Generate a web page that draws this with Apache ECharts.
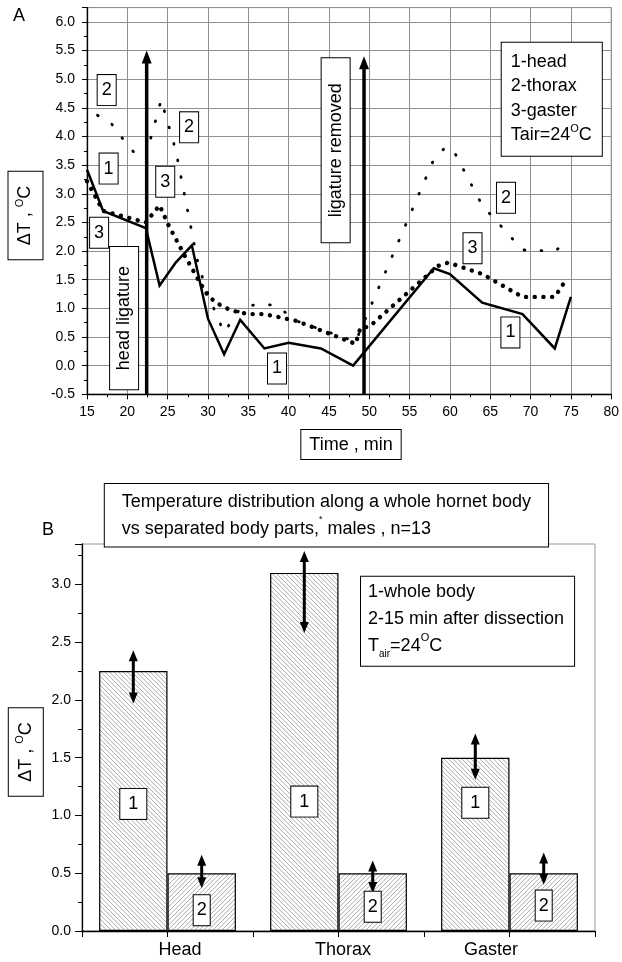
<!DOCTYPE html>
<html>
<head>
<meta charset="utf-8">
<script src="https://cdn.jsdelivr.net/npm/echarts@6/dist/echarts.min.js"></script>
<style>
  html, body { margin: 0; padding: 0; background: #fff; }
  #chart { width: 622px; height: 962px; }
</style>
</head>
<body>
<div id="chart"></div>
<script>
// ---------- Panel A: temperature excess of body parts over time ----------
const headTime   = [15, 17, 22.3, 24, 26, 28, 30, 32, 34, 37, 40, 44, 48, 58, 60, 64, 69, 73, 75];
const headDT     = [3.42, 2.7, 2.4, 1.4, 1.8, 2.1, 0.82, 0.2, 0.8, 0.3, 0.4, 0.3, 0.0, 1.7, 1.6, 1.1, 0.9, 0.3, 1.2];

const thoraxTime = [16.3, 18, 19.6, 21.2, 22.3, 24.2, 26, 28.8, 30, 31, 32, 34, 36, 38, 39.6, 41, 48.3, 58, 59.5, 60.5, 64, 69, 73, 75];
const thoraxDT   = [4.37, 4.23, 3.93, 3.66, 3.66, 4.64, 3.76, 1.76, 1.25, 0.9, 0.58, 1.0, 1.07, 1.06, 0.93, 0.78, 0.42, 3.6, 3.82, 3.74, 2.8, 2.02, 2.0, 2.2];

const gasterTime = [15, 17, 22.3, 24, 25, 27, 29, 30, 31, 32, 33, 35, 37, 41, 48.3, 48.9, 50, 58.5, 59.8, 64, 69, 73, 74.5];
const gasterDT   = [3.22, 2.7, 2.5, 2.8, 2.48, 1.95, 1.45, 1.22, 1.1, 1.02, 0.96, 0.9, 0.9, 0.78, 0.38, 0.66, 0.68, 1.74, 1.8, 1.6, 1.2, 1.2, 1.52];

// moments when the ligature was applied / removed, and arrow tips
const ligatureTime = [22.4, 49.35];
const ligatureTip  = [5.5, 5.4];

const xTicksA = { min: 15, max: 80, step: 5 };
const yTicksA = { min: -0.5, max: 6.25, step: 0.5 };

// ---------- Panel B: whole body vs separated parts ----------
const parts           = ['Head', 'Thorax', 'Gaster'];
const wholeBody       = [2.25, 3.1, 1.5];
const wholeBodyHigh   = [2.43, 3.29, 1.71];
const wholeBodyLow    = [1.97, 2.58, 1.31];
const afterDissection = [0.5, 0.5, 0.5];
const afterHigh       = [0.66, 0.61, 0.68];
const afterLow        = [0.37, 0.33, 0.40];

const yTicksB = { min: 0, max: 3.35, step: 0.5 };

// ---------- annotation tags ----------
const tagsA = [
  { t: '2', x: 17.44, y: 4.81 }, { t: '2', x: 27.66, y: 4.16 },
  { t: '1', x: 17.68, y: 3.44 }, { t: '3', x: 24.7, y: 3.21 },
  { t: '3', x: 16.5, y: 2.32 },  { t: '1', x: 38.56, y: -0.05 },
  { t: '2', x: 66.95, y: 2.93 }, { t: '3', x: 62.8, y: 2.05 },
  { t: '1', x: 67.5, y: 0.58 },
  { t: 'head ligature', x: 19.6, y: 0.83, rot: true, pad: [4, 19, 4, 19] },
  { t: 'ligature removed', x: 45.83, y: 3.76, rot: true, pad: [4, 25, 4, 25] }
];
const tagLevelWhole = [1.1, 1.12, 1.11];
const tagLevelAfter = [0.18, 0.21, 0.22];

const FONT = '"Liberation Sans", Arial, sans-serif';

function hatch(dir) {
  const s = 9, c = document.createElement('canvas');
  c.width = s; c.height = s;
  const g = c.getContext('2d');
  g.fillStyle = '#fff'; g.fillRect(0, 0, s, s);
  g.strokeStyle = '#a3a3a3'; g.lineWidth = 0.9;
  g.beginPath();
  for (let k = -2; k <= 2; k++) {
    const o = k * s / 2;
    if (dir > 0) { g.moveTo(o, 0); g.lineTo(o + s, s); }
    else { g.moveTo(o, s); g.lineTo(o + s, 0); }
  }
  g.stroke();
  return c;
}

function boxedText(text, x, y, rotated, pad) {
  return {
    type: 'text', x: x, y: y, rotation: rotated ? Math.PI / 2 : 0,
    style: {
      text: text, font: '18px ' + FONT, fill: '#000',
      align: 'center', verticalAlign: 'middle', lineHeight: 20,
      backgroundColor: '#fff', borderColor: '#000', borderWidth: 1,
      padding: pad || [5, 4, 5, 4]
    }
  };
}

// vertical arrow: shaft from yA to yB (pixels), head at yB, optional head at yA
function arrow(x, yA, yB, lw, headLen, headHalf, both) {
  const dir = yB < yA ? 1 : -1;
  const children = [];
  const s0 = both ? yA - dir * headLen * 0.8 : yA;
  const s1 = yB + dir * headLen * 0.8;
  children.push({ type: 'line', shape: { x1: x, y1: s0, x2: x, y2: s1 }, style: { stroke: '#000', lineWidth: lw } });
  children.push({ type: 'polygon', shape: { points: [[x, yB], [x - headHalf, yB + dir * headLen], [x + headHalf, yB + dir * headLen]] }, style: { fill: '#000' } });
  if (both) {
    children.push({ type: 'polygon', shape: { points: [[x, yA], [x - headHalf, yA - dir * headLen], [x + headHalf, yA - dir * headLen]] }, style: { fill: '#000' } });
  }
  return { type: 'group', children: children };
}

const axisBlack = { lineStyle: { color: '#000', width: 1.3 } };
const tickBlack = { lineStyle: { color: '#000', width: 1 } };

const chart = echarts.init(document.getElementById('chart'), null, { renderer: 'canvas' });

const option = {
  animation: false,
  backgroundColor: '#fff',
  textStyle: { fontFamily: FONT, color: '#000' },
  grid: [
    { left: 87, right: 7.5, top: 7.6, bottom: 567.7, show: true, borderColor: '#8f8f8f', borderWidth: 1, backgroundColor: 'transparent' },
    { left: 82, right: 27, top: 544, bottom: 31, show: true, borderColor: '#9a9a9a', borderWidth: 1, backgroundColor: 'transparent' }
  ],
  xAxis: [
    {
      gridIndex: 0, type: 'value', min: xTicksA.min, max: xTicksA.max, interval: xTicksA.step,
      axisLine: Object.assign({ onZero: false }, axisBlack),
      axisTick: Object.assign({ length: 5 }, tickBlack),
      minorTick: Object.assign({ show: true, splitNumber: 2, length: 3 }, tickBlack),
      axisLabel: { color: '#000', fontSize: 14, fontFamily: FONT, margin: 11 },
      splitLine: { show: true, lineStyle: { color: '#8f8f8f', width: 1 } }
    },
    {
      gridIndex: 1, type: 'value', min: 0, max: parts.length, interval: 0.5,
      axisLine: Object.assign({ onZero: false }, axisBlack),
      axisTick: Object.assign({ length: 6 }, tickBlack),
      axisLabel: {
        color: '#000', fontSize: 18, fontFamily: FONT, margin: 10,
        formatter: function (v) {
          const i = Math.floor(v);
          if (Math.abs(v - i - 0.5) > 1e-6 || i >= parts.length) return '';
          return '{p' + i + '|' + parts[i] + '}';
        },
        rich: {
          p0: { fontSize: 18, padding: [0, 0, 0, 25] },
          p1: { fontSize: 18, padding: [0, 0, 0, 9] },
          p2: { fontSize: 18, padding: [0, 37, 0, 0] }
        }
      },
      splitLine: { show: false }
    }
  ],
  yAxis: [
    {
      gridIndex: 0, type: 'value', min: yTicksA.min, max: yTicksA.max, interval: yTicksA.step,
      axisLine: Object.assign({ onZero: false }, axisBlack),
      axisTick: Object.assign({ length: 5 }, tickBlack),
      minorTick: Object.assign({ show: true, splitNumber: 2, length: 3 }, tickBlack),
      axisLabel: { color: '#000', fontSize: 14, fontFamily: FONT, margin: 12, showMaxLabel: false, formatter: v => v.toFixed(1) },
      splitLine: { show: true, lineStyle: { color: '#8f8f8f', width: 1 } }
    },
    {
      gridIndex: 1, type: 'value', min: yTicksB.min, max: yTicksB.max, interval: yTicksB.step,
      axisLine: Object.assign({ onZero: false }, axisBlack),
      axisTick: Object.assign({ length: 7 }, tickBlack),
      minorTick: Object.assign({ show: true, splitNumber: 2, length: 4 }, tickBlack),
      axisLabel: { color: '#000', fontSize: 14, fontFamily: FONT, margin: 11, showMaxLabel: false, formatter: v => v.toFixed(1) },
      splitLine: { show: false }
    }
  ],
  series: [
    {
      name: 'head', type: 'line', xAxisIndex: 0, yAxisIndex: 0, symbol: 'none', z: 4,
      data: headTime.map((t, i) => [t, headDT[i]]),
      lineStyle: { color: '#000', width: 2.5, type: 'solid', join: 'miter' }
    },
    {
      name: 'thorax', type: 'line', xAxisIndex: 0, yAxisIndex: 0, symbol: 'none', z: 3,
      data: thoraxTime.map((t, i) => [t, thoraxDT[i]]),
      lineStyle: { color: '#000', width: 2.8, type: [0.8, 16.2], cap: 'round' }
    },
    {
      name: 'gaster', type: 'line', xAxisIndex: 0, yAxisIndex: 0, symbol: 'none', z: 3,
      data: gasterTime.map((t, i) => [t, gasterDT[i]]),
      lineStyle: { color: '#000', width: 4.4, type: [0.1, 8.6], cap: 'round' }
    },
    {
      name: 'ligature', type: 'custom', xAxisIndex: 0, yAxisIndex: 0, z: 6, silent: true,
      data: ligatureTime.map((t, i) => [t, yTicksA.min, ligatureTip[i]]),
      renderItem: function (params, api) {
        const p0 = api.coord([api.value(0), api.value(1)]);
        const p1 = api.coord([api.value(0), api.value(2)]);
        return arrow(p0[0], p0[1], p1[1], 3.5, 13, 5, false);
      }
    },
    {
      name: 'tagsA', type: 'custom', xAxisIndex: 0, yAxisIndex: 0, z: 8, silent: true,
      data: tagsA.map(d => [d.x, d.y]),
      renderItem: function (params, api) {
        const d = tagsA[params.dataIndex];
        const p = api.coord([api.value(0), api.value(1)]);
        return boxedText(d.t, p[0], p[1], d.rot, d.pad);
      }
    },
    {
      name: 'whole body', type: 'bar', xAxisIndex: 1, yAxisIndex: 1, z: 2,
      barWidth: '40%', barGap: '0%',
      data: wholeBody.map((v, i) => [i + 0.5, v]),
      itemStyle: { color: { image: hatch(1), repeat: 'repeat' }, borderColor: '#000', borderWidth: 1.2 }
    },
    {
      name: 'after dissection', type: 'bar', xAxisIndex: 1, yAxisIndex: 1, z: 2,
      barWidth: '40%', barGap: '0%',
      data: afterDissection.map((v, i) => [i + 0.5, v]),
      itemStyle: { color: { image: hatch(-1), repeat: 'repeat' }, borderColor: '#000', borderWidth: 1.2 }
    },
    {
      name: 'spread', type: 'custom', xAxisIndex: 1, yAxisIndex: 1, z: 6, silent: true,
      data: wholeBody.map((v, i) => [i + 0.5, wholeBodyLow[i], wholeBodyHigh[i], 0])
        .concat(afterDissection.map((v, i) => [i + 0.5, afterLow[i], afterHigh[i], 1])),
      renderItem: function (params, api) {
        const side = api.value(3) ? 1 : -1;
        const x = api.coord([api.value(0), 0])[0] + side * api.size([0.2, 0])[0];
        const yLo = api.coord([0, api.value(1)])[1];
        const yHi = api.coord([0, api.value(2)])[1];
        return arrow(x, yLo, yHi, 3, 11, 4.5, true);
      }
    },
    {
      name: 'tagsB', type: 'custom', xAxisIndex: 1, yAxisIndex: 1, z: 8, silent: true,
      data: tagLevelWhole.map((v, i) => [i + 0.5, v, 0]).concat(tagLevelAfter.map((v, i) => [i + 0.5, v, 1])),
      renderItem: function (params, api) {
        const which = api.value(2);
        const x = api.coord([api.value(0), 0])[0] + (which ? 1 : -1) * api.size([0.2, 0])[0];
        const y = api.coord([0, api.value(1)])[1];
        return boxedText(which ? '2' : '1', x, y, false, which ? [5, 3, 5, 3] : [5, 8, 5, 8]);
      }
    }
  ],
  graphic: [
    { type: 'text', x: 19, y: 16, style: { text: 'A', font: '18px ' + FONT, fill: '#000', align: 'center', verticalAlign: 'middle' } },
    { type: 'text', x: 48, y: 530, style: { text: 'B', font: '18px ' + FONT, fill: '#000', align: 'center', verticalAlign: 'middle' } },
    {
      type: 'text', x: 25.5, y: 215.5, rotation: Math.PI / 2, z: 10,
      style: {
        text: 'ΔT , {s|O}C', font: '18px ' + FONT, fill: '#000', align: 'center', verticalAlign: 'middle',
        lineHeight: 22, backgroundColor: '#fff', borderColor: '#000', borderWidth: 1, padding: [6, 14, 6, 14],
        rich: { s: { fontSize: 11, fontFamily: FONT, verticalAlign: 'top', lineHeight: 22 } }
      }
    },
    {
      type: 'text', x: 25.8, y: 752, rotation: Math.PI / 2, z: 10,
      style: {
        text: 'ΔT , {s|O}C', font: '18px ' + FONT, fill: '#000', align: 'center', verticalAlign: 'middle',
        lineHeight: 22, backgroundColor: '#fff', borderColor: '#000', borderWidth: 1, padding: [6, 14, 6, 14],
        rich: { s: { fontSize: 11, fontFamily: FONT, verticalAlign: 'top', lineHeight: 22 } }
      }
    },
    {
      type: 'text', x: 351, y: 444.6, z: 10,
      style: {
        text: 'Time , min', font: '18px ' + FONT, fill: '#000', align: 'center', verticalAlign: 'middle',
        lineHeight: 21, backgroundColor: '#fff', borderColor: '#000', borderWidth: 1, padding: [4, 8, 4, 8]
      }
    },
    {
      type: 'text', x: 501.7, y: 42.7, z: 10,
      style: {
        text: '1-head\n2-thorax\n3-gaster\nTair=24{s|O}C', font: '18px ' + FONT, fill: '#000',
        align: 'left', verticalAlign: 'top', lineHeight: 24.5,
        backgroundColor: '#fff', borderColor: '#000', borderWidth: 1, padding: [7, 10, 8, 9],
        rich: { s: { fontSize: 11, fontFamily: FONT, verticalAlign: 'top', lineHeight: 24.5 } }
      }
    },
    {
      type: 'text', x: 104.8, y: 484, z: 10,
      style: {
        text: 'Temperature distribution along a whole hornet body\nvs separated body parts,{s|*} males , n=13',
        font: '18px ' + FONT, fill: '#000', align: 'left', verticalAlign: 'top', lineHeight: 27.3,
        backgroundColor: '#fff', borderColor: '#000', borderWidth: 1, padding: [4, 17, 4, 17],
        rich: { s: { fontSize: 9, fontFamily: FONT, verticalAlign: 'top', lineHeight: 27.3 } }
      }
    },
    {
      type: 'text', x: 361, y: 576.7, z: 10,
      style: {
        text: '1-whole body\n2-15 min after dissection\nT{b|air}=24{s|O}C',
        font: '18px ' + FONT, fill: '#000', align: 'left', verticalAlign: 'top', lineHeight: 27,
        backgroundColor: '#fff', borderColor: '#000', borderWidth: 1, padding: [2, 10, 6, 7],
        rich: {
          s: { fontSize: 11, fontFamily: FONT, verticalAlign: 'top', lineHeight: 27 },
          b: { fontSize: 10, fontFamily: FONT, verticalAlign: 'bottom', lineHeight: 27 }
        }
      }
    }
  ]
};

chart.setOption(option);
</script>
</body>
</html>
